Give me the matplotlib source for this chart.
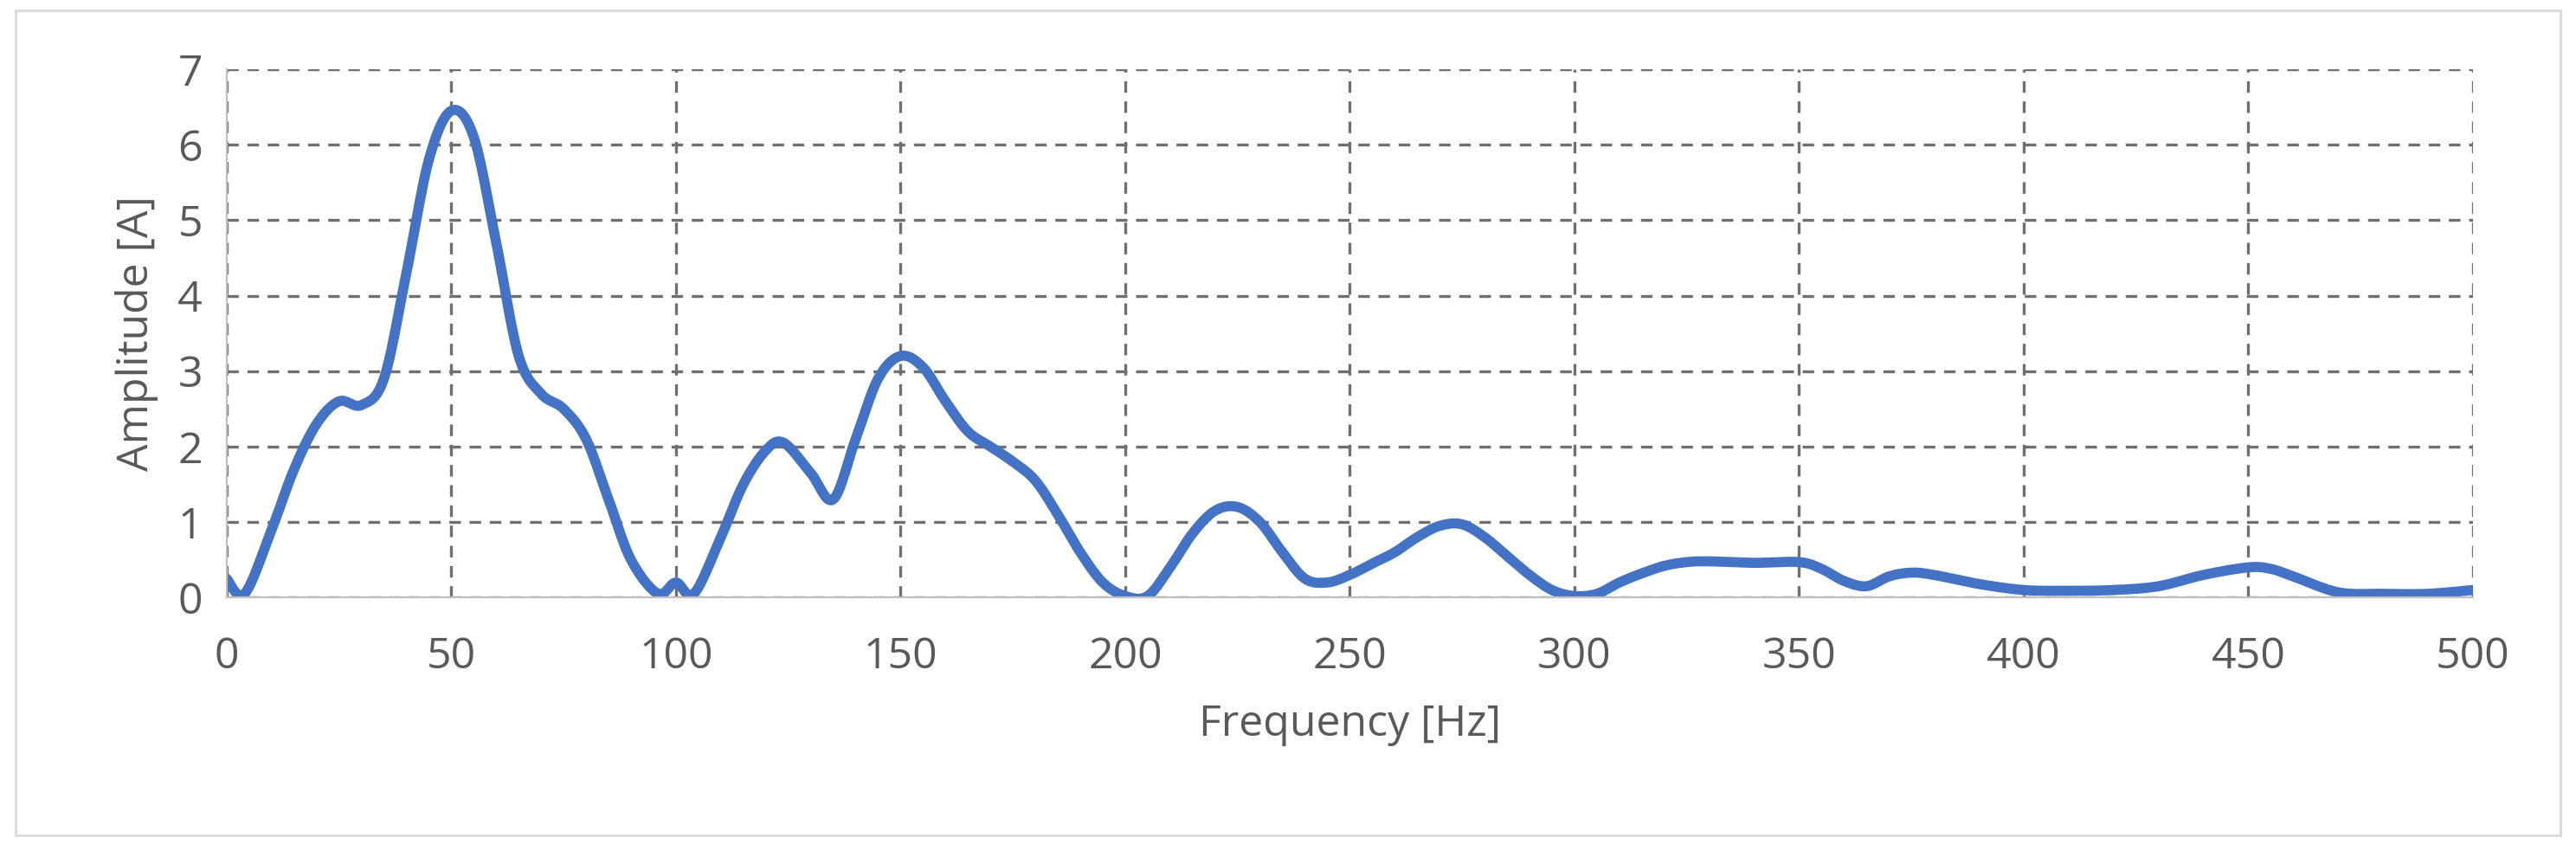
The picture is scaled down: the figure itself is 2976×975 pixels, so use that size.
import numpy as np
import matplotlib
matplotlib.use("Agg")
import matplotlib.pyplot as plt

freq = [0, 4, 10, 15, 20, 25, 30, 35, 40, 45, 50, 55, 60, 65, 70, 75, 80, 85, 90, 96,
        100, 104, 110, 115, 120, 124, 130, 135, 140, 145, 150, 155, 160, 165, 170, 175,
        180, 185, 190, 195, 200, 205, 210, 215, 220, 225, 230, 235, 240, 245, 250, 255,
        260, 265, 270, 275, 280, 285, 290, 295, 300, 305, 310, 315, 320, 325, 330, 340,
        350, 355, 360, 365, 370, 375, 380, 390, 400, 410, 420, 430, 440, 450, 455, 460,
        470, 480, 490, 500]
amp = [0.25, 0.05, 0.9, 1.7, 2.3, 2.6, 2.55, 2.9, 4.3, 5.8, 6.45, 6.1, 4.7, 3.2, 2.7, 2.5,
       2.1, 1.3, 0.5, 0.05, 0.2, 0.05, 0.8, 1.5, 1.95, 2.05, 1.65, 1.3, 2.1, 2.9, 3.2, 3.05,
       2.6, 2.2, 2.0, 1.8, 1.55, 1.1, 0.6, 0.2, 0.02, 0.02, 0.4, 0.85, 1.15, 1.2, 1.0, 0.6,
       0.25, 0.2, 0.3, 0.45, 0.6, 0.8, 0.95, 0.97, 0.8, 0.55, 0.3, 0.1, 0.02, 0.05, 0.2,
       0.32, 0.42, 0.47, 0.48, 0.46, 0.47, 0.38, 0.22, 0.15, 0.28, 0.33, 0.3, 0.18, 0.1,
       0.09, 0.1, 0.15, 0.3, 0.4, 0.38, 0.28, 0.07, 0.05, 0.05, 0.1]


def catmull_rom(x, y, n=12):
    # smooth the line through the points, similar to a spreadsheet "smoothed line"
    x = np.asarray(x, float)
    y = np.asarray(y, float)
    px = np.concatenate([[x[0]], x, [x[-1]]])
    py = np.concatenate([[y[0]], y, [y[-1]]])
    xs, ys = [], []
    t = np.linspace(0, 1, n, endpoint=False)
    for i in range(1, len(px) - 2):
        for p, out in ((px, xs), (py, ys)):
            p0, p1, p2, p3 = p[i - 1], p[i], p[i + 1], p[i + 2]
            out.extend(0.5 * (2 * p1 + (-p0 + p2) * t + (2 * p0 - 5 * p1 + 4 * p2 - p3) * t ** 2
                              + (-p0 + 3 * p1 - 3 * p2 + p3) * t ** 3))
    xs.append(x[-1])
    ys.append(y[-1])
    return xs, ys


plt.rcParams["font.family"] = ["Open Sans", "DejaVu Sans"]
TEXT = "#595959"

fig = plt.figure(figsize=(14.88, 4.875), dpi=200)
ax = fig.add_axes([0.088, 0.292, 0.872, 0.626])
fig.patches.append(plt.Rectangle((0.006, 0.01), 0.988, 0.978, transform=fig.transFigure,
                                 fill=False, edgecolor="#d9d9d9", linewidth=1.0))

sx, sy = catmull_rom(freq, amp)
ax.plot(sx, sy, color="#4472C4", linewidth=4.2, solid_capstyle="round")

ax.set_xlim(0, 500)
ax.set_ylim(0, 7)
ax.set_xticks(range(0, 501, 50))
ax.set_yticks(range(0, 8))
ax.grid(True, color="#6f6f6f", linestyle=(0, (4, 3)), linewidth=1.2)
for side in ("top", "right"):
    ax.spines[side].set_visible(False)
ax.spines["left"].set_color("#bfbfbf")
ax.spines["bottom"].set_color("#bfbfbf")
ax.tick_params(length=0, labelsize=18, colors=TEXT, pad=10)
ax.tick_params(axis="x", pad=16)
ax.set_xlabel("Frequency [Hz]", fontsize=18, color=TEXT, labelpad=10)
ax.set_ylabel("Amplitude [A]", fontsize=18, color=TEXT, labelpad=8)

fig.savefig("out.png")
